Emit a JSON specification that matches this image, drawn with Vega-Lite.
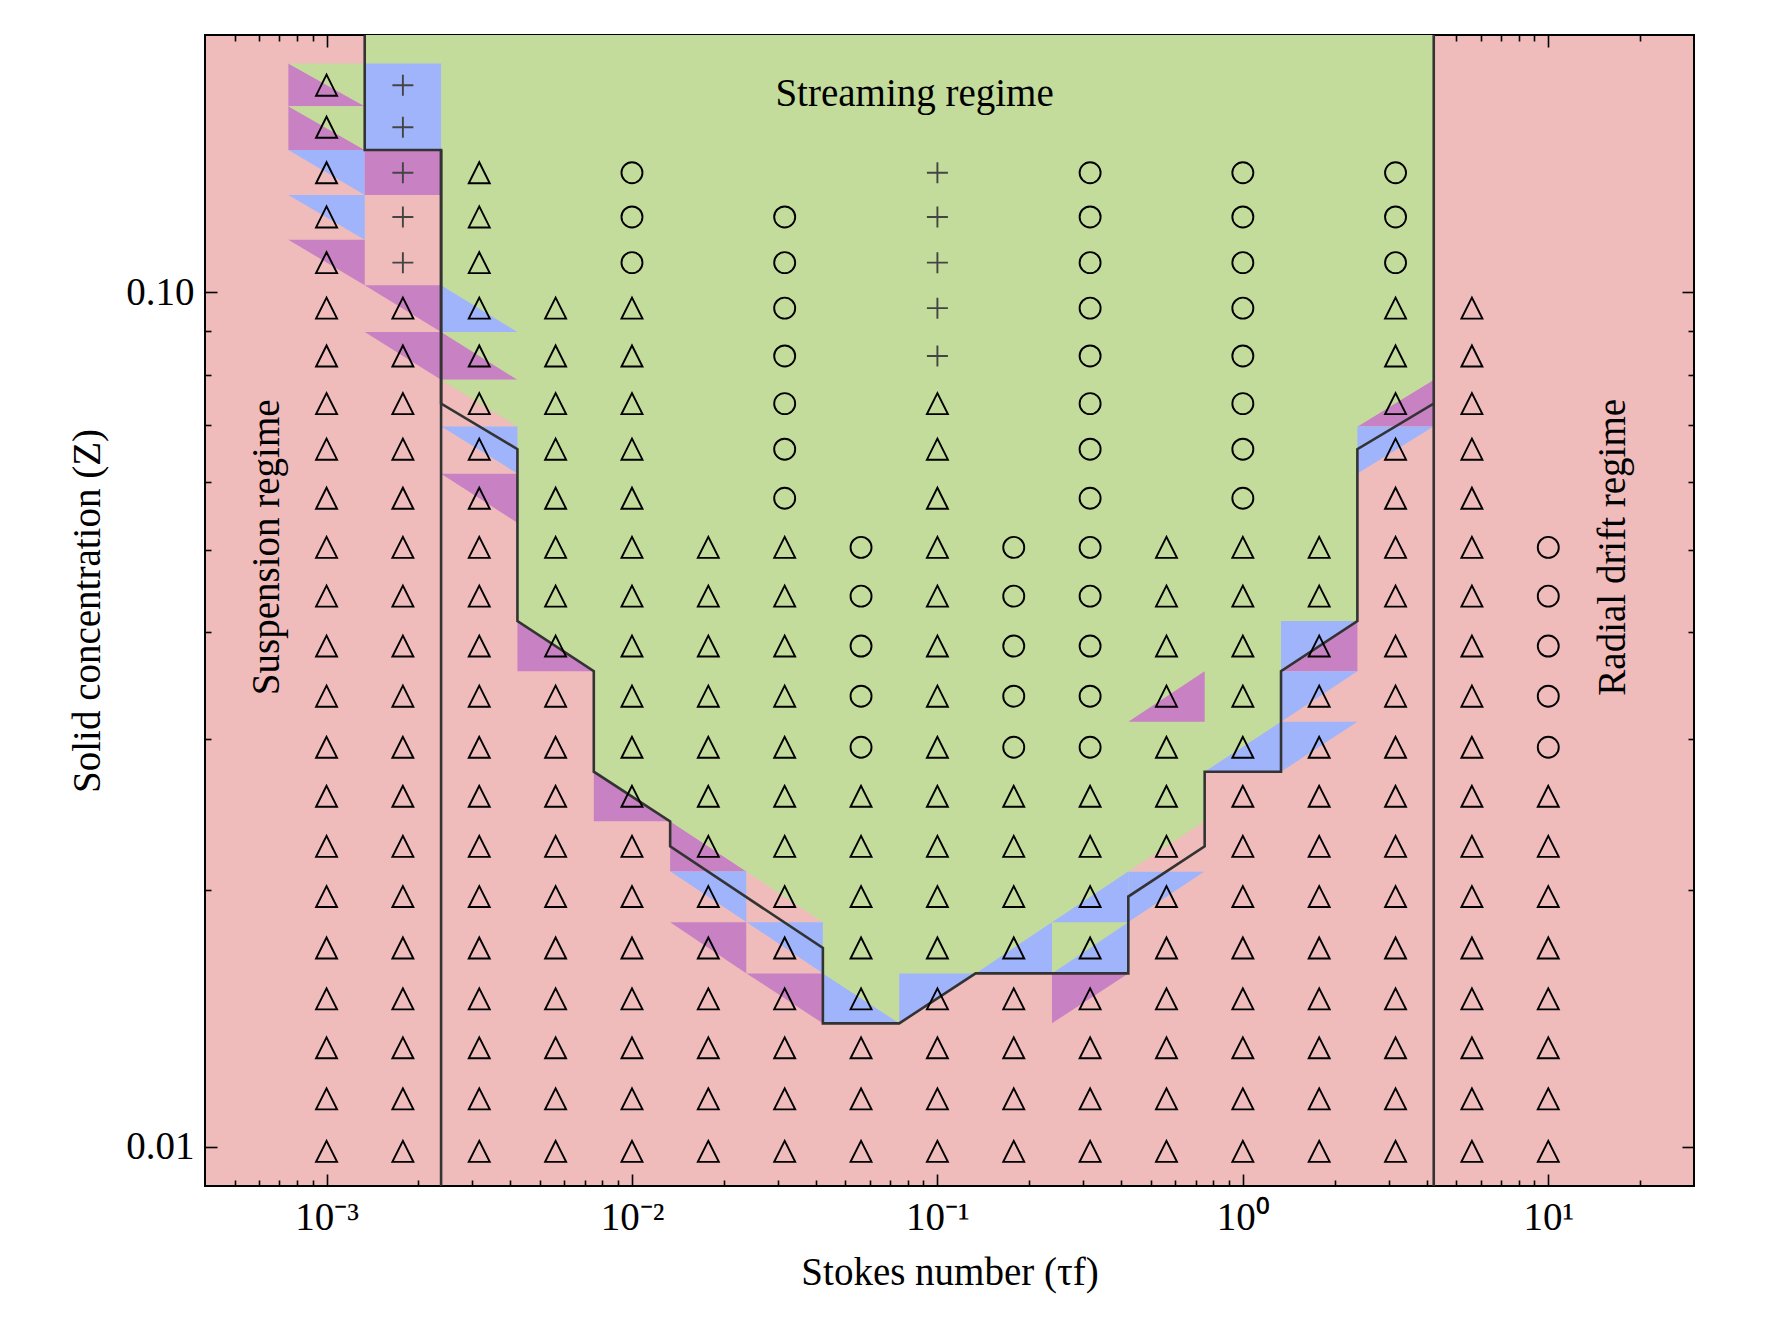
{
"$schema": "https://vega.github.io/schema/vega-lite/v6.json",
"width": 1489, "height": 1151,
"autosize": {"type": "none"},
"padding": {"left": 205, "top": 35, "right": 91, "bottom": 137},
"background": "white",
"config": {
  "view": {"fill": "#EFBBBB", "stroke": "black", "strokeWidth": 2},
  "font": "Liberation Serif",
  "axis": {"labelFont": "Liberation Serif", "titleFont": "Liberation Serif", "labelFontSize": 39, "titleFontSize": 39, "titleFontWeight": "normal", "labelColor": "black", "titleColor": "black", "domain": false, "grid": false, "tickColor": "black", "tickWidth": 1.6}
},
"datasets": {
  "poly": [
    {"i":1,"t":0.0013335,"lo":0.2},
    {"i":2,"t":0.0013335,"lo":0.1467},
    {"i":3,"t":0.0023714,"lo":0.1467},
    {"i":4,"t":0.0023714,"lo":0.07408},
    {"i":5,"t":0.004217,"lo":0.06552},
    {"i":6,"t":0.004217,"lo":0.04123},
    {"i":7,"t":0.0074989,"lo":0.03603},
    {"i":8,"t":0.0074989,"lo":0.02748},
    {"i":9,"t":0.013335,"lo":0.02404},
    {"i":10,"t":0.013335,"lo":0.02247},
    {"i":11,"t":0.04217,"lo":0.01709},
    {"i":12,"t":0.04217,"lo":0.01395},
    {"i":13,"t":0.074989,"lo":0.01395},
    {"i":14,"t":0.13335,"lo":0.01596},
    {"i":15,"t":0.4217,"lo":0.01596},
    {"i":16,"t":0.4217,"lo":0.01963},
    {"i":17,"t":0.74989,"lo":0.02247},
    {"i":18,"t":0.74989,"lo":0.02748},
    {"i":19,"t":1.3335,"lo":0.02748},
    {"i":20,"t":1.3335,"lo":0.03603},
    {"i":21,"t":2.3714,"lo":0.04123},
    {"i":22,"t":2.3714,"lo":0.06552},
    {"i":23,"t":4.217,"lo":0.07408},
    {"i":24,"t":4.217,"lo":0.2}
  ],
  "strip": [
    {"s":1,"t":0.0013335,"lo":0.1467,"hi":0.2},{"s":1,"t":0.0023714,"lo":0.1467,"hi":0.2},
    {"s":2,"t":0.0023714,"lo":0.07408,"hi":0.2},{"s":2,"t":0.004217,"lo":0.06552,"hi":0.2},
    {"s":3,"t":0.004217,"lo":0.04123,"hi":0.2},{"s":3,"t":0.0074989,"lo":0.03603,"hi":0.2},
    {"s":4,"t":0.0074989,"lo":0.02748,"hi":0.2},{"s":4,"t":0.013335,"lo":0.02404,"hi":0.2},
    {"s":5,"t":0.013335,"lo":0.02247,"hi":0.2},{"s":5,"t":0.04217,"lo":0.01709,"hi":0.2},
    {"s":6,"t":0.04217,"lo":0.01395,"hi":0.2},{"s":6,"t":0.074989,"lo":0.01395,"hi":0.2},
    {"s":7,"t":0.074989,"lo":0.01395,"hi":0.2},{"s":7,"t":0.13335,"lo":0.01596,"hi":0.2},
    {"s":8,"t":0.13335,"lo":0.01596,"hi":0.2},{"s":8,"t":0.4217,"lo":0.01596,"hi":0.2},
    {"s":9,"t":0.4217,"lo":0.01963,"hi":0.2},{"s":9,"t":0.74989,"lo":0.02247,"hi":0.2},
    {"s":10,"t":0.74989,"lo":0.02748,"hi":0.2},{"s":10,"t":1.3335,"lo":0.02748,"hi":0.2},
    {"s":11,"t":1.3335,"lo":0.03603,"hi":0.2},{"s":11,"t":2.3714,"lo":0.04123,"hi":0.2},
    {"s":12,"t":2.3714,"lo":0.06552,"hi":0.2},{"s":12,"t":4.217,"lo":0.07408,"hi":0.2}
  ],
  "tri": [
    {"g":1,"c":"P","t":0.00075,"lo":0.1651,"hi":0.1852},{"g":1,"c":"P","t":0.0013335,"lo":0.1651,"hi":0.1651},
    {"g":2,"c":"G","t":0.00075,"lo":0.1852,"hi":0.1852},{"g":2,"c":"G","t":0.0013335,"lo":0.1651,"hi":0.1852},
    {"g":3,"c":"P","t":0.00075,"lo":0.1467,"hi":0.1651},{"g":3,"c":"P","t":0.0013335,"lo":0.1467,"hi":0.1467},
    {"g":4,"c":"G","t":0.00075,"lo":0.1651,"hi":0.1651},{"g":4,"c":"G","t":0.0013335,"lo":0.1467,"hi":0.1651},
    {"g":5,"c":"B","t":0.00075,"lo":0.1467,"hi":0.1467},{"g":5,"c":"B","t":0.0013335,"lo":0.13,"hi":0.1467},
    {"g":6,"c":"B","t":0.00075,"lo":0.13,"hi":0.13},{"g":6,"c":"B","t":0.0013335,"lo":0.1152,"hi":0.13},
    {"g":7,"c":"P","t":0.00075,"lo":0.1152,"hi":0.1152},{"g":7,"c":"P","t":0.0013335,"lo":0.1019,"hi":0.1152},
    {"g":8,"c":"B","t":0.0013335,"lo":0.1467,"hi":0.1852},{"g":8,"c":"B","t":0.0023714,"lo":0.1467,"hi":0.1852},
    {"g":9,"c":"P","t":0.0013335,"lo":0.13,"hi":0.1467},{"g":9,"c":"P","t":0.0023714,"lo":0.13,"hi":0.1467},
    {"g":10,"c":"P","t":0.0013335,"lo":0.1019,"hi":0.1019},{"g":10,"c":"P","t":0.0023714,"lo":0.08983,"hi":0.1019},
    {"g":11,"c":"P","t":0.0013335,"lo":0.08983,"hi":0.08983},{"g":11,"c":"P","t":0.0023714,"lo":0.07899,"hi":0.08983},
    {"g":12,"c":"B","t":0.0023714,"lo":0.08983,"hi":0.1019},{"g":12,"c":"B","t":0.004217,"lo":0.08983,"hi":0.08983},
    {"g":13,"c":"P","t":0.0023714,"lo":0.07899,"hi":0.08983},{"g":13,"c":"P","t":0.004217,"lo":0.07899,"hi":0.07899},
    {"g":14,"c":"K","t":0.0023714,"lo":0.06967,"hi":0.07899},{"g":14,"c":"K","t":0.004217,"lo":0.06967,"hi":0.06967},
    {"g":15,"c":"G","t":0.0023714,"lo":0.07899,"hi":0.07899},{"g":15,"c":"G","t":0.004217,"lo":0.06967,"hi":0.07899},
    {"g":16,"c":"B","t":0.0023714,"lo":0.06967,"hi":0.06967},{"g":16,"c":"B","t":0.004217,"lo":0.06133,"hi":0.06967},
    {"g":17,"c":"K","t":0.0023714,"lo":0.06133,"hi":0.06967},{"g":17,"c":"K","t":0.004217,"lo":0.06133,"hi":0.06133},
    {"g":18,"c":"P","t":0.0023714,"lo":0.06133,"hi":0.06133},{"g":18,"c":"P","t":0.004217,"lo":0.05373,"hi":0.06133},
    {"g":19,"c":"P","t":0.004217,"lo":0.03603,"hi":0.04123},{"g":19,"c":"P","t":0.0074989,"lo":0.03603,"hi":0.03603},
    {"g":20,"c":"P","t":0.0074989,"lo":0.02404,"hi":0.02748},{"g":20,"c":"P","t":0.013335,"lo":0.02404,"hi":0.02404},
    {"g":21,"c":"P","t":0.013335,"lo":0.021,"hi":0.02404},{"g":21,"c":"P","t":0.023714,"lo":0.021,"hi":0.021},
    {"g":22,"c":"G","t":0.013335,"lo":0.02404,"hi":0.02404},{"g":22,"c":"G","t":0.023714,"lo":0.021,"hi":0.02404},
    {"g":23,"c":"B","t":0.013335,"lo":0.021,"hi":0.021},{"g":23,"c":"B","t":0.023714,"lo":0.01832,"hi":0.021},
    {"g":24,"c":"K","t":0.013335,"lo":0.01832,"hi":0.021},{"g":24,"c":"K","t":0.023714,"lo":0.01832,"hi":0.01832},
    {"g":25,"c":"P","t":0.013335,"lo":0.01832,"hi":0.01832},{"g":25,"c":"P","t":0.023714,"lo":0.01596,"hi":0.01832},
    {"g":26,"c":"K","t":0.023714,"lo":0.01832,"hi":0.021},{"g":26,"c":"K","t":0.04217,"lo":0.01832,"hi":0.01832},
    {"g":27,"c":"G","t":0.023714,"lo":0.021,"hi":0.021},{"g":27,"c":"G","t":0.04217,"lo":0.01832,"hi":0.021},
    {"g":28,"c":"B","t":0.023714,"lo":0.01832,"hi":0.01832},{"g":28,"c":"B","t":0.04217,"lo":0.01596,"hi":0.01832},
    {"g":29,"c":"K","t":0.023714,"lo":0.01596,"hi":0.01832},{"g":29,"c":"K","t":0.04217,"lo":0.01596,"hi":0.01596},
    {"g":30,"c":"P","t":0.023714,"lo":0.01596,"hi":0.01596},{"g":30,"c":"P","t":0.04217,"lo":0.01395,"hi":0.01596},
    {"g":31,"c":"B","t":0.04217,"lo":0.01395,"hi":0.01596},{"g":31,"c":"B","t":0.074989,"lo":0.01395,"hi":0.01395},
    {"g":32,"c":"B","t":0.074989,"lo":0.01395,"hi":0.01596},{"g":32,"c":"B","t":0.13335,"lo":0.01596,"hi":0.01596},
    {"g":33,"c":"B","t":0.13335,"lo":0.01596,"hi":0.01596},{"g":33,"c":"B","t":0.23714,"lo":0.01596,"hi":0.01832},
    {"g":34,"c":"B","t":0.23714,"lo":0.01596,"hi":0.01596},{"g":34,"c":"B","t":0.4217,"lo":0.01596,"hi":0.01832},
    {"g":35,"c":"B","t":0.23714,"lo":0.01832,"hi":0.01832},{"g":35,"c":"B","t":0.4217,"lo":0.01832,"hi":0.021},
    {"g":36,"c":"P","t":0.23714,"lo":0.01395,"hi":0.01596},{"g":36,"c":"P","t":0.4217,"lo":0.01596,"hi":0.01596},
    {"g":37,"c":"B","t":0.4217,"lo":0.01832,"hi":0.021},{"g":37,"c":"B","t":0.74989,"lo":0.021,"hi":0.021},
    {"g":38,"c":"K","t":0.4217,"lo":0.01832,"hi":0.01832},{"g":38,"c":"K","t":0.74989,"lo":0.01832,"hi":0.021},
    {"g":39,"c":"G","t":0.4217,"lo":0.021,"hi":0.02404},{"g":39,"c":"G","t":0.74989,"lo":0.02404,"hi":0.02404},
    {"g":40,"c":"K","t":0.4217,"lo":0.021,"hi":0.021},{"g":40,"c":"K","t":0.74989,"lo":0.021,"hi":0.02404},
    {"g":41,"c":"P","t":0.4217,"lo":0.03144,"hi":0.03144},{"g":41,"c":"P","t":0.74989,"lo":0.03144,"hi":0.03603},
    {"g":42,"c":"B","t":0.74989,"lo":0.02748,"hi":0.02748},{"g":42,"c":"B","t":1.3335,"lo":0.02748,"hi":0.03144},
    {"g":43,"c":"B","t":1.3335,"lo":0.03603,"hi":0.04123},{"g":43,"c":"B","t":2.3714,"lo":0.04123,"hi":0.04123},
    {"g":44,"c":"P","t":1.3335,"lo":0.03603,"hi":0.03603},{"g":44,"c":"P","t":2.3714,"lo":0.03603,"hi":0.04123},
    {"g":45,"c":"B","t":1.3335,"lo":0.03144,"hi":0.03603},{"g":45,"c":"B","t":2.3714,"lo":0.03603,"hi":0.03603},
    {"g":46,"c":"B","t":1.3335,"lo":0.02748,"hi":0.03144},{"g":46,"c":"B","t":2.3714,"lo":0.03144,"hi":0.03144},
    {"g":47,"c":"P","t":2.3714,"lo":0.06967,"hi":0.06967},{"g":47,"c":"P","t":4.217,"lo":0.06967,"hi":0.07899},
    {"g":48,"c":"G","t":2.3714,"lo":0.06967,"hi":0.07899},{"g":48,"c":"G","t":4.217,"lo":0.07899,"hi":0.07899},
    {"g":49,"c":"B","t":2.3714,"lo":0.06133,"hi":0.06967},{"g":49,"c":"B","t":4.217,"lo":0.06967,"hi":0.06967},
    {"g":50,"c":"K","t":2.3714,"lo":0.06133,"hi":0.06133},{"g":50,"c":"K","t":4.217,"lo":0.06133,"hi":0.06967}
  ],
  "cols": [
    {"t":0.001,"z":[0.00988,0.01138,0.01306,0.0149,0.01709,0.01963,0.02247,0.02572,0.02935,0.03368,0.03855,0.0441,0.05029,0.05741,0.06552,0.07408,0.08423,0.09581,0.1083,0.1225,0.138,0.156,0.1747],"m":["t","t","t","t","t","t","t","t","t","t","t","t","t","t","t","t","t","t","t","t","t","t","t"]},
    {"t":0.001778,"z":[0.00988,0.01138,0.01306,0.0149,0.01709,0.01963,0.02247,0.02572,0.02935,0.03368,0.03855,0.0441,0.05029,0.05741,0.06552,0.07408,0.08423,0.09581,0.1083,0.1225,0.138,0.156,0.1747],"m":["t","t","t","t","t","t","t","t","t","t","t","t","t","t","t","t","t","t","p","p","p","p","p"]},
    {"t":0.003162,"z":[0.00988,0.01138,0.01306,0.0149,0.01709,0.01963,0.02247,0.02572,0.02935,0.03368,0.03855,0.0441,0.05029,0.05741,0.06552,0.07408,0.08423,0.09581,0.1083,0.1225,0.138],"m":["t","t","t","t","t","t","t","t","t","t","t","t","t","t","t","t","t","t","t","t","t"]},
    {"t":0.005623,"z":[0.00988,0.01138,0.01306,0.0149,0.01709,0.01963,0.02247,0.02572,0.02935,0.03368,0.03855,0.0441,0.05029,0.05741,0.06552,0.07408,0.08423,0.09581],"m":["t","t","t","t","t","t","t","t","t","t","t","t","t","t","t","t","t","t"]},
    {"t":0.01,"z":[0.00988,0.01138,0.01306,0.0149,0.01709,0.01963,0.02247,0.02572,0.02935,0.03368,0.03855,0.0441,0.05029,0.05741,0.06552,0.07408,0.08423,0.09581,0.1083,0.1225,0.138],"m":["t","t","t","t","t","t","t","t","t","t","t","t","t","t","t","t","t","t","o","o","o"]},
    {"t":0.01778,"z":[0.00988,0.01138,0.01306,0.0149,0.01709,0.01963,0.02247,0.02572,0.02935,0.03368,0.03855,0.0441,0.05029],"m":["t","t","t","t","t","t","t","t","t","t","t","t","t"]},
    {"t":0.03162,"z":[0.00988,0.01138,0.01306,0.0149,0.01709,0.01963,0.02247,0.02572,0.02935,0.03368,0.03855,0.0441,0.05029,0.05741,0.06552,0.07408,0.08423,0.09581,0.1083,0.1225],"m":["t","t","t","t","t","t","t","t","t","t","t","t","t","o","o","o","o","o","o","o"]},
    {"t":0.05623,"z":[0.00988,0.01138,0.01306,0.0149,0.01709,0.01963,0.02247,0.02572,0.02935,0.03368,0.03855,0.0441,0.05029],"m":["t","t","t","t","t","t","t","t","o","o","o","o","o"]},
    {"t":0.1,"z":[0.00988,0.01138,0.01306,0.0149,0.01709,0.01963,0.02247,0.02572,0.02935,0.03368,0.03855,0.0441,0.05029,0.05741,0.06552,0.07408,0.08423,0.09581,0.1083,0.1225,0.138],"m":["t","t","t","t","t","t","t","t","t","t","t","t","t","t","t","t","p","p","p","p","p"]},
    {"t":0.1778,"z":[0.00988,0.01138,0.01306,0.0149,0.01709,0.01963,0.02247,0.02572,0.02935,0.03368,0.03855,0.0441,0.05029],"m":["t","t","t","t","t","t","t","t","o","o","o","o","o"]},
    {"t":0.3162,"z":[0.00988,0.01138,0.01306,0.0149,0.01709,0.01963,0.02247,0.02572,0.02935,0.03368,0.03855,0.0441,0.05029,0.05741,0.06552,0.07408,0.08423,0.09581,0.1083,0.1225,0.138],"m":["t","t","t","t","t","t","t","t","o","o","o","o","o","o","o","o","o","o","o","o","o"]},
    {"t":0.5623,"z":[0.00988,0.01138,0.01306,0.0149,0.01709,0.01963,0.02247,0.02572,0.02935,0.03368,0.03855,0.0441,0.05029],"m":["t","t","t","t","t","t","t","t","t","t","t","t","t"]},
    {"t":1,"z":[0.00988,0.01138,0.01306,0.0149,0.01709,0.01963,0.02247,0.02572,0.02935,0.03368,0.03855,0.0441,0.05029,0.05741,0.06552,0.07408,0.08423,0.09581,0.1083,0.1225,0.138],"m":["t","t","t","t","t","t","t","t","t","t","t","t","t","o","o","o","o","o","o","o","o"]},
    {"t":1.778,"z":[0.00988,0.01138,0.01306,0.0149,0.01709,0.01963,0.02247,0.02572,0.02935,0.03368,0.03855,0.0441,0.05029],"m":["t","t","t","t","t","t","t","t","t","t","t","t","t"]},
    {"t":3.162,"z":[0.00988,0.01138,0.01306,0.0149,0.01709,0.01963,0.02247,0.02572,0.02935,0.03368,0.03855,0.0441,0.05029,0.05741,0.06552,0.07408,0.08423,0.09581,0.1083,0.1225,0.138],"m":["t","t","t","t","t","t","t","t","t","t","t","t","t","t","t","t","t","t","o","o","o"]},
    {"t":5.623,"z":[0.00988,0.01138,0.01306,0.0149,0.01709,0.01963,0.02247,0.02572,0.02935,0.03368,0.03855,0.0441,0.05029,0.05741,0.06552,0.07408,0.08423,0.09581],"m":["t","t","t","t","t","t","t","t","t","t","t","t","t","t","t","t","t","t"]},
    {"t":10,"z":[0.00988,0.01138,0.01306,0.0149,0.01709,0.01963,0.02247,0.02572,0.02935,0.03368,0.03855,0.0441,0.05029],"m":["t","t","t","t","t","t","t","t","o","o","o","o","o"]}
  ]
},
"layer": [
  {
    "data": {"name": "strip"},
    "mark": {"type": "area", "color": "#C4DC9B", "stroke": "#C4DC9B", "strokeWidth": 1, "clip": true},
    "encoding": {
      "x": {"field": "t", "type": "quantitative", "scale": {"type": "log", "domain": [0.0004, 30]},
            "axis": {"orient": "bottom", "values": [0.001, 0.01, 0.1, 1, 10], "tickSize": -12, "labelPadding": 24,
                     "labelExpr": "datum.value < 0.005 ? '10⁻³' : datum.value < 0.05 ? '10⁻²' : datum.value < 0.5 ? '10⁻¹' : datum.value < 5 ? '10⁰' : '10¹'",
                     "title": "Stokes number (τf)", "titlePadding": 16}},
      "y": {"field": "lo", "type": "quantitative", "stack": null, "scale": {"type": "log", "domain": [0.009, 0.2]},
            "axis": {"orient": "left", "values": [0.01, 0.1], "format": ".2f", "tickSize": -12, "labelPadding": 23, "title": "Solid concentration (Z)", "titlePadding": 18}},
      "y2": {"field": "hi"},
      "detail": {"field": "s", "type": "nominal"}
    }
  },
  {
    "data": {"name": "tri"},
    "mark": {"type": "area", "clip": true},
    "encoding": {
      "x": {"field": "t", "type": "quantitative", "scale": {"type": "log", "domain": [0.0004, 30]},
            "axis": {"orient": "bottom", "values": [0.0005,0.0006,0.0007,0.0008,0.0009,0.002,0.003,0.004,0.005,0.006,0.007,0.008,0.009,0.02,0.03,0.04,0.05,0.06,0.07,0.08,0.09,0.2,0.3,0.4,0.5,0.6,0.7,0.8,0.9,2,3,4,5,6,7,8,9,20], "tickSize": -6, "labels": false, "title": null}},
      "y": {"field": "lo", "type": "quantitative", "stack": null, "scale": {"type": "log", "domain": [0.009, 0.2]},
            "axis": {"orient": "left", "values": [0.02,0.03,0.04,0.05,0.06,0.07,0.08,0.09], "tickSize": -6, "labels": false, "title": null}},
      "y2": {"field": "hi"},
      "color": {"field": "c", "type": "nominal", "scale": {"domain": ["G","B","P","K"], "range": ["#C4DC9B","#A0B4FC","#C882C3","#EFBBBB"]}, "legend": null},
      "detail": {"field": "g", "type": "nominal"}
    }
  },
  {
    "data": {"name": "poly"},
    "mark": {"type": "line", "color": "#333333", "strokeWidth": 2.6, "clip": true},
    "encoding": {
      "x": {"field": "t", "type": "quantitative", "scale": {"type": "log", "domain": [0.0004, 30]},
            "axis": {"orient": "top", "values": [0.001, 0.01, 0.1, 1, 10], "tickSize": -12, "labels": false, "title": null}},
      "y": {"field": "lo", "type": "quantitative", "scale": {"type": "log", "domain": [0.009, 0.2]},
            "axis": {"orient": "right", "values": [0.01, 0.1], "tickSize": -12, "labels": false, "title": null}},
      "order": {"field": "i", "type": "quantitative"}
    }
  },
  {
    "data": {"values": [{"t": 0.0023714, "a": 0.009, "b": 0.1467}, {"t": 4.217, "a": 0.009, "b": 0.07408}]},
    "mark": {"type": "rule", "color": "#333333", "strokeWidth": 2.6},
    "encoding": {
      "x": {"field": "t", "type": "quantitative", "scale": {"type": "log", "domain": [0.0004, 30]},
            "axis": {"orient": "top", "values": [0.0005,0.0006,0.0007,0.0008,0.0009,0.002,0.003,0.004,0.005,0.006,0.007,0.008,0.009,0.02,0.03,0.04,0.05,0.06,0.07,0.08,0.09,0.2,0.3,0.4,0.5,0.6,0.7,0.8,0.9,2,3,4,5,6,7,8,9,20], "tickSize": -6, "labels": false, "title": null}},
      "y": {"field": "a", "type": "quantitative", "scale": {"type": "log", "domain": [0.009, 0.2]},
            "axis": {"orient": "right", "values": [0.02,0.03,0.04,0.05,0.06,0.07,0.08,0.09], "tickSize": -6, "labels": false, "title": null}},
      "y2": {"field": "b"}
    }
  },
  {
    "data": {"name": "cols"},
    "transform": [{"flatten": ["z", "m"]}],
    "mark": {"type": "point", "filled": false, "size": 441, "strokeWidth": 1.9, "opacity": 1},
    "encoding": {
      "x": {"field": "t", "type": "quantitative", "scale": {"type": "log", "domain": [0.0004, 30]}, "axis": null},
      "y": {"field": "z", "type": "quantitative", "scale": {"type": "log", "domain": [0.009, 0.2]}, "axis": null},
      "shape": {"field": "m", "type": "nominal", "scale": {"domain": ["t","o","p"], "range": ["M0,-1L-1,1L1,1Z", "circle", "M-1,0L1,0M0,-1L0,1"]}, "legend": null},
      "stroke": {"field": "m", "type": "nominal", "scale": {"domain": ["t","o","p"], "range": ["#000000","#000000","#444444"]}, "legend": null}
    }
  },
  {
    "data": {"values": [{"t": 0.0842, "z": 0.1652, "s": "Streaming regime"}]},
    "mark": {"type": "text", "font": "Liberation Serif", "fontSize": 39, "color": "black", "align": "center", "baseline": "alphabetic"},
    "encoding": {
      "x": {"field": "t", "type": "quantitative", "scale": {"type": "log", "domain": [0.0004, 30]}, "axis": null},
      "y": {"field": "z", "type": "quantitative", "scale": {"type": "log", "domain": [0.009, 0.2]}, "axis": null},
      "text": {"field": "s"}
    }
  },
  {
    "data": {"values": [{"t": 0.0007, "z": 0.0503, "s": "Suspension regime"}, {"t": 17.84, "z": 0.0503, "s": "Radial drift regime"}]},
    "mark": {"type": "text", "font": "Liberation Serif", "fontSize": 39, "color": "black", "align": "center", "baseline": "alphabetic", "angle": 270},
    "encoding": {
      "x": {"field": "t", "type": "quantitative", "scale": {"type": "log", "domain": [0.0004, 30]}, "axis": null},
      "y": {"field": "z", "type": "quantitative", "scale": {"type": "log", "domain": [0.009, 0.2]}, "axis": null},
      "text": {"field": "s"}
    }
  }
],
"resolve": {"axis": {"x": "independent", "y": "independent"}}
}
